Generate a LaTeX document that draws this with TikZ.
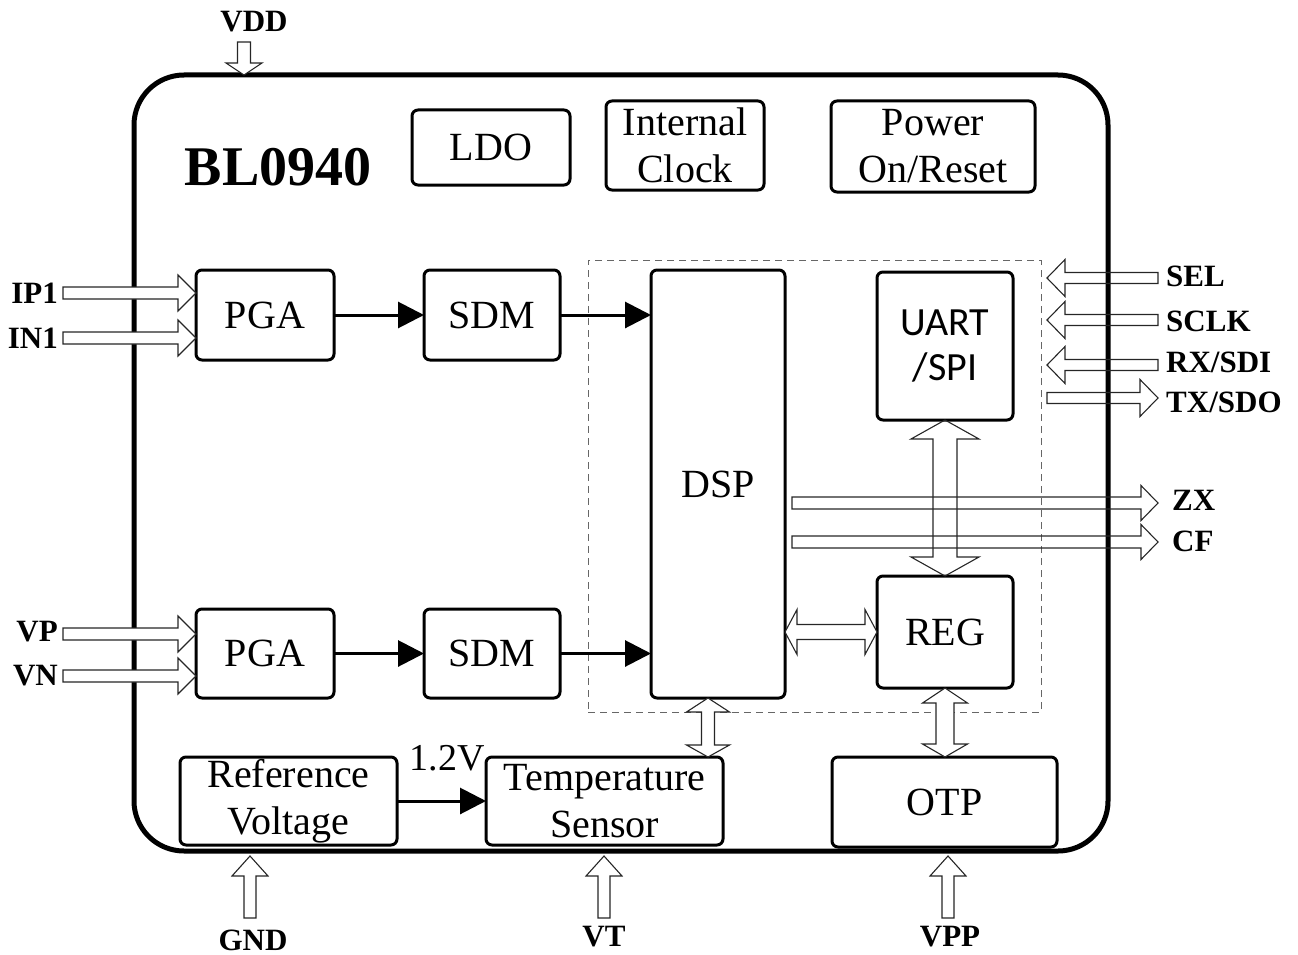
\documentclass[tikz,border=0pt]{standalone}
\usepackage{fontspec}
\setmainfont{Liberation Serif}
\newfontfamily\uartfont{Carlito}
\usetikzlibrary{arrows.meta,calc}
% hollow single horizontal arrow: [style]{tail}{tip}{shaft half}{head half}{head length}
\newcommand\HArrow[6][]{\draw[hollow,#1] let \p1=(#2), \p2=(#3), \n1={sign(\x2-\x1)} in
  (\x1,{\y1+#4pt}) -- ({\x2-(\n1)*#6pt},{\y1+#4pt}) -- ({\x2-(\n1)*#6pt},{\y1+#5pt}) -- (\x2,\y1)
  -- ({\x2-(\n1)*#6pt},{\y1-#5pt}) -- ({\x2-(\n1)*#6pt},{\y1-#4pt}) -- (\x1,{\y1-#4pt}) -- cycle;}
% hollow single vertical arrow
\newcommand\VArrow[6][]{\draw[hollow,#1] let \p1=(#2), \p2=(#3), \n1={sign(\y2-\y1)} in
  ({\x1+#4pt},\y1) -- ({\x1+#4pt},{\y2-(\n1)*#6pt}) -- ({\x1+#5pt},{\y2-(\n1)*#6pt}) -- (\x1,\y2)
  -- ({\x1-#5pt},{\y2-(\n1)*#6pt}) -- ({\x1-#4pt},{\y2-(\n1)*#6pt}) -- ({\x1-#4pt},\y1) -- cycle;}
% hollow double horizontal arrow: [style]{A}{B}{shaft half}{head half}{head len A}{head len B}
\newcommand\HDArrow[7][]{\draw[hollow,#1] let \p1=(#2), \p2=(#3), \n1={sign(\x2-\x1)} in
  (\x1,\y1) -- ({\x1+(\n1)*#6pt},{\y1+#5pt}) -- ({\x1+(\n1)*#6pt},{\y1+#4pt})
  -- ({\x2-(\n1)*#7pt},{\y1+#4pt}) -- ({\x2-(\n1)*#7pt},{\y1+#5pt}) -- (\x2,\y1)
  -- ({\x2-(\n1)*#7pt},{\y1-#5pt}) -- ({\x2-(\n1)*#7pt},{\y1-#4pt})
  -- ({\x1+(\n1)*#6pt},{\y1-#4pt}) -- ({\x1+(\n1)*#6pt},{\y1-#5pt}) -- cycle;}
% hollow double vertical arrow
\newcommand\VDArrow[7][]{\draw[hollow,#1] let \p1=(#2), \p2=(#3), \n1={sign(\y2-\y1)} in
  (\x1,\y1) -- ({\x1+#5pt},{\y1+(\n1)*#6pt}) -- ({\x1+#4pt},{\y1+(\n1)*#6pt})
  -- ({\x1+#4pt},{\y2-(\n1)*#7pt}) -- ({\x1+#5pt},{\y2-(\n1)*#7pt}) -- (\x1,\y2)
  -- ({\x1-#5pt},{\y2-(\n1)*#7pt}) -- ({\x1-#4pt},{\y2-(\n1)*#7pt})
  -- ({\x1-#4pt},{\y1+(\n1)*#6pt}) -- ({\x1-#5pt},{\y1+(\n1)*#6pt}) -- cycle;}
\begin{document}
\begin{tikzpicture}[x=1pt,y=-1pt,
  box/.style={draw,line width=3pt,rounded corners=6pt,inner sep=0pt,outer sep=0pt,
    align=center,font=\fontsize{40}{47}\selectfont},
  lbl/.style={font=\bfseries\fontsize{31}{31}\selectfont,inner sep=0pt},
  hollow/.style={draw=black!85,line width=1.1pt,fill=white,line join=miter},
  flow/.style={line width=3pt,-{Triangle[length=26pt,width=26pt]}},
  group/.style={draw=black!60,line width=1pt,dash pattern=on 7pt off 5pt,inner sep=0pt,outer sep=0pt}
]
\useasboundingbox (0,0) rectangle (1298,955);

% chip outline
\node[draw,line width=5pt,rounded corners=50pt,minimum width=974pt,minimum height=776pt,
      inner sep=0pt,outer sep=0pt] (chip) at (621,463) {};
\node[font=\bfseries\fontsize{56}{56}\selectfont,inner sep=0pt] (title) at (278,167) {BL0940};

% dashed DSP group
\node[group,minimum width=453pt,minimum height=452pt] (grp) at (814.5,486) {};

% blocks
\node[box,minimum width=158pt,minimum height=75pt] (ldo) at (491,147.5) {LDO};
\node[box,minimum width=158pt,minimum height=89pt] (clk) at (685,145.5) {Internal\\Clock};
\node[box,minimum width=204pt,minimum height=91pt] (por) at (933,146.5) {Power\\On/Reset};
\node[box,minimum width=138pt,minimum height=90pt] (pga1) at (265,315) {PGA};
\node[box,minimum width=136pt,minimum height=90pt] (sdm1) at (492,315) {SDM};
\node[box,minimum width=138pt,minimum height=89pt] (pga2) at (265,653.5) {PGA};
\node[box,minimum width=136pt,minimum height=89pt] (sdm2) at (492,653.5) {SDM};
\node[box,minimum width=134pt,minimum height=428pt] (dsp) at (718,484) {DSP};
\node[box,minimum width=136pt,minimum height=148pt,font=\uartfont\fontsize{40}{45}\selectfont] (uart) at (945,346) {UART\\/SPI};
\node[box,minimum width=136pt,minimum height=112pt] (reg) at (945,632) {REG};
\node[box,minimum width=217pt,minimum height=88pt] (ref) at (288.5,801) {Reference\\Voltage};
\node[box,minimum width=237pt,minimum height=88pt] (temp) at (604.5,801) {Temperature\\Sensor};
\node[box,minimum width=225pt,minimum height=90pt] (otp) at (944.5,802) {OTP};

% solid flow arrows
\draw[flow] (pga1.east) -- (sdm1.west);
\draw[flow] (sdm1.east) -- (sdm1.east -| dsp.west);
\draw[flow] (pga2.east) -- (sdm2.west);
\draw[flow] (sdm2.east) -- (sdm2.east -| dsp.west);
\draw[flow] (ref.east) -- (temp.west);
\node[font=\fontsize{38}{38}\selectfont,inner sep=0pt] (v12) at (447,758) {1.2V};

% input pins (left)
\coordinate (ip1) at (63,293);
\coordinate (in1) at (63,338);
\coordinate (vp) at (63,634);
\coordinate (vn) at (63,676);
\HArrow{ip1}{ip1 -| pga1.west}{6}{18}{18}
\HArrow{in1}{in1 -| pga1.west}{6}{18}{18}
\HArrow{vp}{vp -| pga2.west}{6}{18}{18}
\HArrow{vn}{vn -| pga2.west}{6}{18}{18}
\node[lbl,anchor=east] (lip1) at (58,293) {IP1};
\node[lbl,anchor=east] (lin1) at (58,338) {IN1};
\node[lbl,anchor=east] (lvp) at (58,632) {VP};
\node[lbl,anchor=east] (lvn) at (58,676) {VN};

% serial interface pins (right)
\coordinate (selo) at (1158,278);  \coordinate (seli) at (1047,278);
\coordinate (sclko) at (1158,320); \coordinate (sclki) at (1047,320);
\coordinate (rxo) at (1158,365);   \coordinate (rxi) at (1047,365);
\coordinate (txi) at (1047,398);   \coordinate (txo) at (1158,398);
\HArrow[fill=none]{selo}{seli}{5.5}{18.5}{18}
\HArrow[fill=none]{sclko}{sclki}{5.5}{18.5}{18}
\HArrow[fill=none]{rxo}{rxi}{5.5}{18.5}{18}
\HArrow[fill=none]{txi}{txo}{5.5}{18.5}{18}
\node[lbl,anchor=west] (lsel) at (1166,276) {SEL};
\node[lbl,anchor=west] (lsclk) at (1166,321) {SCLK};
\node[lbl,anchor=west] (lrx) at (1166,362) {RX/SDI};
\node[lbl,anchor=west] (ltx) at (1166,402) {TX/SDO};

% ZX / CF outputs
\coordinate (zxo) at (1158,503);
\coordinate (cfo) at (1158,542);
\HArrow[fill=none]{zxo -| 792,0}{zxo}{6}{17.5}{17}
\HArrow[fill=none]{cfo -| 792,0}{cfo}{6}{17.5}{17}
\node[lbl,anchor=west] (lzx) at (1172,500) {ZX};
\node[lbl,anchor=west] (lcf) at (1172,541) {CF};

% internal buses
\VDArrow[fill=none]{uart.south}{reg.north}{12}{34}{19}{19}
\HDArrow{dsp.east |- reg.west}{reg.west}{7.5}{22.5}{12}{12}
\coordinate (dtx) at (708,0);
\VDArrow{dtx |- dsp.south}{dtx |- temp.north}{6.5}{21.5}{14}{12}
\VDArrow{reg.south}{reg.south |- otp.north}{9}{22.5}{15}{13}

% supply pins
\coordinate (vddt) at (244,42);
\VArrow{vddt}{vddt |- chip.north}{6.5}{18}{12}
\node[lbl] (lvdd) at (254,22) {VDD};
\coordinate (gndb) at (250,918);
\coordinate (vtb) at (604,918);
\coordinate (vppb) at (948,918);
\VArrow{gndb}{250,856}{6}{18}{20}
\VArrow{vtb}{604,856}{6}{18}{20}
\VArrow{vppb}{948,856}{6}{18}{20}
\node[lbl] (lgnd) at (253,940) {GND};
\node[lbl] (lvt) at (604,937) {VT};
\node[lbl] (lvpp) at (950,937) {VPP};
\end{tikzpicture}
\end{document}
